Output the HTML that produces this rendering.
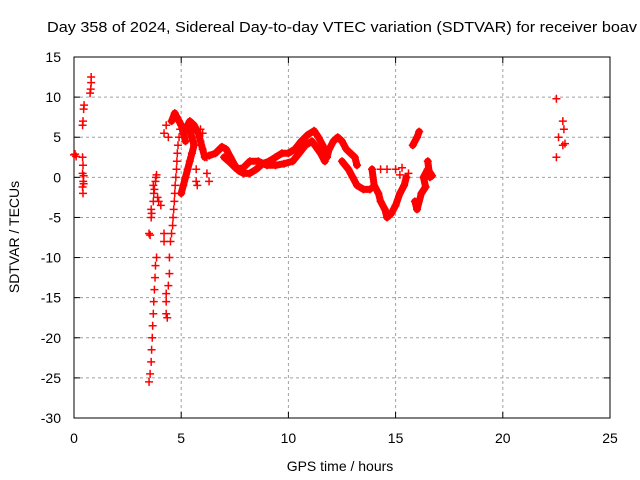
<!DOCTYPE html>
<html><head><meta charset="utf-8"><style>
body{margin:0;background:#fff}
svg{display:block;font-family:"Liberation Sans",sans-serif}
</style></head><body>
<svg id="chart" width="640" height="480" viewBox="0 0 640 480">
<rect width="640" height="480" fill="#fff"/>
<text x="47" y="32" font-size="15" fill="#000" textLength="590" lengthAdjust="spacingAndGlyphs">Day 358 of 2024, Sidereal Day-to-day VTEC variation (SDTVAR) for receiver boav</text>
<g id="grid"></g>
<g id="axes"></g>
<g id="marks"></g>
<text x="340" y="471" font-size="14" text-anchor="middle">GPS time / hours</text>
<text transform="translate(19,237) rotate(-90)" font-size="14" text-anchor="middle">SDTVAR / TECUs</text>
</svg>
<script>
const xTicks=[0,5,10,15,20,25];
const yTicks=[15,10,5,0,-5,-10,-15,-20,-25,-30];
const trackA=[[0,2.8],[0.05,2.9],[0.1,2.6]];
const trackB=[[0.4,2.5],[0.42,1.5],[0.4,0.5],[0.45,0.2],[0.43,-0.5],[0.45,-0.8],[0.4,-1.2],[0.42,-2]];
const trackB2=[[0.4,6.5],[0.42,7],[0.45,8.5],[0.47,9]];
const trackC=[[0.75,10.5],[0.78,11],[0.8,11.8],[0.8,12.5]];
const trackD=[[3.5,-25.5],[3.55,-24.5],[3.6,-23],[3.62,-21.5],[3.65,-20],[3.67,-18.5],[3.7,-17],[3.72,-15.5],[3.75,-14],[3.78,-12.5],[3.8,-11],[3.85,-10]];
const trackD2=[[3.5,-7],[3.55,-7.2],[3.6,-5],[3.62,-4.5],[3.6,-4],[3.7,-3],[3.72,-2],[3.75,-1.5],[3.7,-1],[3.8,-0.5],[3.82,0],[3.85,0.3],[3.9,-2.5],[3.95,-3]];
const trackE=[[4.05,-3.5],[4.2,-7],[4.2,-8],[4.3,-14.5],[4.3,-15.5],[4.3,-17],[4.35,-17.5]];
const trackE2=[[4.4,-13.5],[4.45,-12],[4.45,-10],[4.5,-8],[4.55,-7],[4.6,-6],[4.62,-5],[4.65,-4],[4.68,-3],[4.7,-2],[4.72,-1],[4.75,0],[4.78,1],[4.8,2],[4.82,3],[4.85,4],[4.9,5],[4.95,6]];
const trackPeak0=[[4.2,5.5],[4.3,6.5],[4.4,5]];
const trackPeak=[[4.55,7],[4.7,8],[4.8,7.5],[4.9,7],[5,6.5],[5.1,5.5],[5.2,4.5]];
const trackF=[[5.0,-2],[5.1,-1],[5.2,0],[5.3,1],[5.4,2],[5.5,3],[5.6,4],[5.5,5],[5.3,6.5],[5.4,7],[5.6,6.5],[5.8,5.5],[5.9,4.5],[6,3.5],[6.1,2.5]];
const trackF2=[[5.7,1],[5.7,-0.5],[5.75,-1],[5.9,6],[6,5.5],[6.1,3],[6.2,2.5],[6.2,0.5],[6.3,-0.5]];
const trackMain=[[6.3,2.7],[6.6,3],[6.9,3.8],[7.1,3.5],[7.3,2.5],[7.5,1.5],[7.7,0.8],[7.9,0.5],[8.2,0.5],[8.5,1],[8.8,1.7],[9.1,2],[9.4,2.5],[9.7,3],[10,3],[10.3,3.5],[10.6,4.5],[10.9,5.3],[11.2,5.8],[11.4,5],[11.6,4],[11.8,2.5],[11.9,3.5],[12.1,4.5],[12.3,5],[12.5,4.5],[12.7,3.5],[12.9,3],[13.1,2.5],[13.2,1.5]];
const trackLow=[[7,2.5],[7.3,1.8],[7.6,1],[7.9,1.2],[8.2,2],[8.6,2],[9,1.5],[9.4,1.5],[9.8,1.7],[10.2,2],[10.5,3],[10.8,4],[11.1,4.5],[11.5,3],[11.7,2]];
const trackDesc=[[12.5,2],[12.8,1],[13,0],[13.2,-1],[13.5,-1.5],[13.8,-1.5]];
const trackG=[[13.9,1],[14,-1],[14.2,-2],[14.3,-3],[14.5,-4],[14.6,-5],[14.8,-4.5],[15,-3.5],[15.2,-2],[15.4,-1],[15.5,0]];
const trackG2=[[14.3,1],[14.6,1],[15,1],[15.3,1.2],[15.6,0.5],[15.2,0.3]];
const trackH=[[15.8,4],[16,5],[16.1,5.7]];
const trackH2=[[15.9,-3],[16,-4],[16.2,-2],[16.4,-1.2],[16.3,0],[16.5,1],[16.7,0.2],[16.6,0],[16.5,2]];
const trackR=[[22.5,9.8],[22.6,5],[22.5,2.5],[22.8,7],[22.85,6],[22.8,4],[22.9,4.2]];
const tracks=[trackA,trackB,trackB2,trackC,trackD,trackD2,trackE,trackE2,trackPeak0,trackPeak,trackF,trackF2,trackMain,trackLow,trackDesc,trackG,trackG2,trackH,trackH2,trackR];
const thick=[false,false,false,false,false,false,false,false,false,true,true,false,true,true,true,true,false,true,true,false];

const X0=74,X1=610,Y0=57,Y1=418;
const xs=h=>X0+(h-0)/(25-0)*(X1-X0);
const ys=v=>Y0+(15-v)/(15-(-30))*(Y1-Y0);
const NS='http://www.w3.org/2000/svg';
const mk=(t,a,p)=>{const e=document.createElementNS(NS,t);for(const k in a)e.setAttribute(k,a[k]);p.appendChild(e);return e;};
const grid=document.getElementById('grid'),axes=document.getElementById('axes'),marks=document.getElementById('marks');
xTicks.forEach(t=>{
 const x=xs(t);
 if(t>0&&t<25){const l=mk('line',{x1:x,x2:x,y1:Y0,y2:Y1,stroke:'#a0a0a0','stroke-dasharray':'3,3'},grid);
 
 }
 mk('line',{x1:x,x2:x,y1:Y1,y2:Y1-6,stroke:'#000'},axes);
 mk('line',{x1:x,x2:x,y1:Y0,y2:Y0+6,stroke:'#000'},axes);
 const tx=mk('text',{x:x,y:443,'font-size':14,'text-anchor':'middle'},axes);tx.textContent=t;
 
 
});
yTicks.forEach(t=>{
 const y=ys(t);
 if(t<15&&t>-30){const l=mk('line',{x1:X0,x2:X1,y1:y,y2:y,stroke:'#a0a0a0','stroke-dasharray':'3,3'},grid);
 
 }
 mk('line',{x1:X0,x2:X0+6,y1:y,y2:y,stroke:'#000'},axes);
 mk('line',{x1:X1,x2:X1-6,y1:y,y2:y,stroke:'#000'},axes);
 const tx=mk('text',{x:61,y:y+5,'font-size':14,'text-anchor':'end'},axes);tx.textContent=t;
 
 
});
const fr=mk('rect',{x:X0,y:Y0,width:X1-X0,height:Y1-Y0,fill:'none',stroke:'#000'},axes);


tracks.forEach((tr,i)=>{
 if(thick[i]){const pl=mk('polyline',{points:tr.map(p=>xs(p[0])+','+ys(p[1])).join(' '),fill:'none',stroke:'#f00','stroke-width':7,'stroke-linejoin':'round','stroke-linecap':'round'},marks);
 
 }
 tr.forEach(p=>{
  const x=xs(p[0]),y=ys(p[1]);
  const g=mk('path',{d:`M${x-4},${y}H${x+4}M${x},${y-4}V${y+4}`,stroke:'#f00','stroke-width':1.5},marks);
  
  
 });
});
</script>
</body></html>
